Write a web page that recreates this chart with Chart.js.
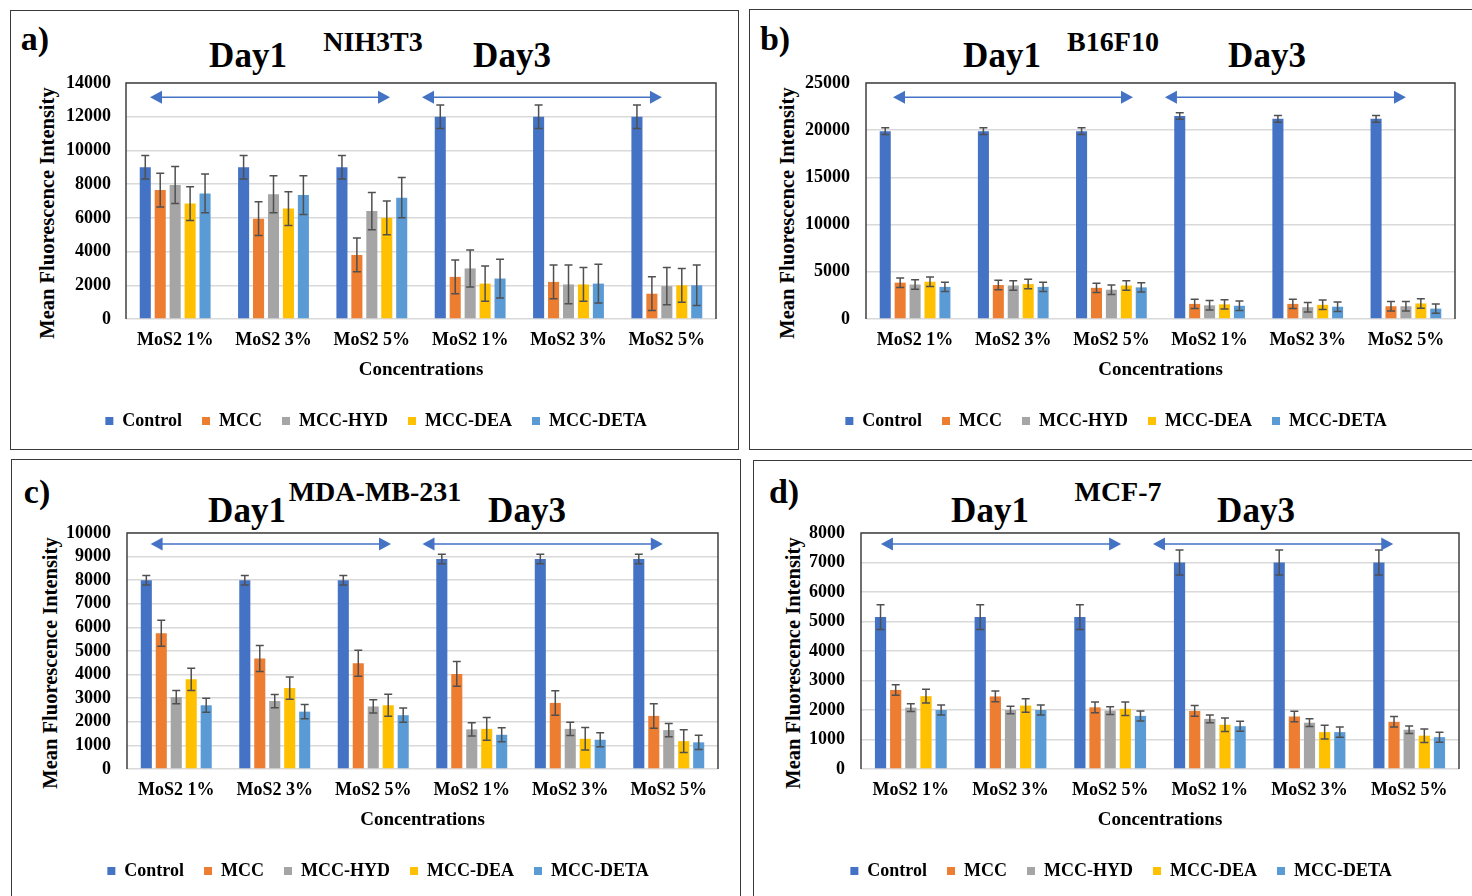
<!DOCTYPE html>
<html><head><meta charset="utf-8">
<script src="https://cdn.jsdelivr.net/npm/chart.js@4.4.1/dist/chart.umd.min.js"></script>
<style>
html,body{margin:0;padding:0;background:#fff;}
body{width:1472px;height:896px;position:relative;overflow:hidden;font-family:"Liberation Serif","Times New Roman",serif;}
.panel{position:absolute;border:1.5px solid #3a3a3a;box-sizing:border-box;}
.lbl{position:absolute;font-weight:bold;white-space:nowrap;transform:translate(-50%,-50%);line-height:1;color:#000;}
.ytl{position:absolute;font-weight:bold;white-space:nowrap;transform:translate(-50%,-50%) rotate(-90deg);line-height:1;color:#000;font-size:20.5px;}
canvas{position:absolute;}
</style></head>
<body>
<div class="panel" style="left:10px;top:10px;width:729px;height:440px"></div>
<div class="panel" style="left:749px;top:9px;width:740px;height:441px"></div>
<div class="panel" style="left:11px;top:459px;width:730px;height:450px"></div>
<div class="panel" style="left:753px;top:460px;width:740px;height:450px"></div>

<div class="lbl" style="left:35px;top:39px;font-size:34px">a)</div>
<div class="lbl" style="left:248px;top:55px;font-size:35px">Day1</div>
<div class="lbl" style="left:373px;top:42px;font-size:28px">NIH3T3</div>
<div class="lbl" style="left:512px;top:55px;font-size:35px">Day3</div>

<div class="lbl" style="left:775px;top:39px;font-size:34px">b)</div>
<div class="lbl" style="left:1002px;top:55px;font-size:35px">Day1</div>
<div class="lbl" style="left:1113px;top:42px;font-size:28px">B16F10</div>
<div class="lbl" style="left:1267px;top:55px;font-size:35px">Day3</div>

<div class="lbl" style="left:37px;top:492px;font-size:34px">c)</div>
<div class="lbl" style="left:247px;top:510px;font-size:35px">Day1</div>
<div class="lbl" style="left:375px;top:492px;font-size:28px">MDA-MB-231</div>
<div class="lbl" style="left:527px;top:510px;font-size:35px">Day3</div>

<div class="lbl" style="left:784px;top:492px;font-size:34px">d)</div>
<div class="lbl" style="left:990px;top:510px;font-size:35px">Day1</div>
<div class="lbl" style="left:1118px;top:492px;font-size:28px">MCF-7</div>
<div class="lbl" style="left:1256px;top:510px;font-size:35px">Day3</div>

<div class="ytl" style="left:47px;top:213px">Mean Fluorescence Intensity</div>
<div class="ytl" style="left:787px;top:213px">Mean Fluorescence Intensity</div>
<div class="ytl" style="left:50px;top:663px">Mean Fluorescence Intensity</div>
<div class="ytl" style="left:793px;top:663px">Mean Fluorescence Intensity</div>

<canvas id="ca" style="left:12px;top:75px" width="724" height="365"></canvas>
<canvas id="cb" style="left:751px;top:75px" width="719" height="365"></canvas>
<canvas id="cc" style="left:14px;top:525px" width="724" height="365"></canvas>
<canvas id="cd" style="left:756px;top:525px" width="714" height="365"></canvas>

<script>
// ---------- shared categories / series ----------
const categories = ['MoS2 1%','MoS2 3%','MoS2 5%','MoS2 1%','MoS2 3%','MoS2 5%'];
const seriesNames = ['Control','MCC','MCC-HYD','MCC-DEA','MCC-DETA'];
const seriesColors = ['#4472C4','#ED7D31','#A5A5A5','#FFC000','#5B9BD5'];

// ---------- a) NIH3T3 ----------
const nihControl = [9000, 9000, 9000, 12000, 12000, 12000];
const nihMCC     = [7650, 5950, 3800, 2500, 2200, 1500];
const nihHYD     = [7950, 7400, 6400, 3000, 2050, 1950];
const nihDEA     = [6850, 6550, 6000, 2100, 2050, 2000];
const nihDETA    = [7450, 7350, 7200, 2400, 2100, 2000];
const nihControlErr = [700, 700, 700, 700, 700, 700];
const nihMCCErr     = [1000, 1000, 1000, 1000, 1000, 1000];
const nihHYDErr     = [1100, 1100, 1100, 1100, 1150, 1100];
const nihDEAErr     = [1000, 1000, 1000, 1050, 1000, 1000];
const nihDETAErr    = [1150, 1150, 1200, 1150, 1150, 1200];
const nihTicks = {max:14000, step:2000};

// ---------- b) B16F10 ----------
const b16Control = [19900, 19900, 19900, 21500, 21200, 21200];
const b16MCC     = [3850, 3600, 3300, 1600, 1600, 1350];
const b16HYD     = [3650, 3550, 3100, 1450, 1250, 1350];
const b16DEA     = [3950, 3700, 3550, 1550, 1500, 1650];
const b16DETA    = [3400, 3400, 3350, 1400, 1300, 1100];
const b16ControlErr = [350, 350, 350, 350, 350, 350];
const b16MCCErr     = [500, 500, 500, 500, 500, 500];
const b16HYDErr     = [500, 500, 500, 500, 500, 500];
const b16DEAErr     = [500, 500, 500, 500, 500, 500];
const b16DETAErr    = [500, 500, 500, 500, 500, 500];
const b16Ticks = {max:25000, step:5000};

// ---------- c) MDA-MB-231 ----------
const mdaControl = [8000, 8000, 8000, 8900, 8900, 8900];
const mdaMCC     = [5750, 4680, 4480, 4030, 2800, 2250];
const mdaHYD     = [3050, 2880, 2650, 1680, 1700, 1650];
const mdaDEA     = [3800, 3430, 2700, 1700, 1280, 1180];
const mdaDETA    = [2700, 2430, 2280, 1450, 1240, 1130];
const mdaControlErr = [200, 200, 200, 200, 200, 200];
const mdaMCCErr     = [550, 550, 550, 520, 520, 520];
const mdaHYDErr     = [280, 280, 280, 280, 280, 280];
const mdaDEAErr     = [470, 470, 470, 480, 480, 480];
const mdaDETAErr    = [300, 300, 300, 300, 300, 300];
const mdaTicks = {max:10000, step:1000};

// ---------- d) MCF-7 ----------
const mcfControl = [5150, 5150, 5150, 7000, 7000, 7000];
const mcfMCC     = [2680, 2460, 2090, 1970, 1780, 1600];
const mcfHYD     = [2080, 2000, 1980, 1700, 1570, 1330];
const mcfDEA     = [2470, 2150, 2040, 1500, 1250, 1130];
const mcfDETA    = [2000, 2000, 1800, 1450, 1250, 1080];
const mcfControlErr = [420, 420, 420, 420, 420, 420];
const mcfMCCErr     = [180, 180, 180, 180, 180, 180];
const mcfHYDErr     = [130, 130, 130, 130, 130, 130];
const mcfDEAErr     = [230, 230, 230, 230, 230, 230];
const mcfDETAErr    = [170, 170, 170, 170, 170, 170];
const mcfTicks = {max:8000, step:1000};

const xTitle = 'Concentrations';

// ---------- plugins ----------
const errorBarPlugin = {
  id: 'errorBars',
  afterDatasetsDraw(chart) {
    const ctx = chart.ctx, ys = chart.scales.y;
    ctx.save();
    ctx.strokeStyle = '#505050';
    ctx.lineWidth = 1.5;
    chart.data.datasets.forEach((ds, di) => {
      const meta = chart.getDatasetMeta(di);
      meta.data.forEach((bar, i) => {
        const v = ds.data[i], e = ds.errors[i];
        const yt = ys.getPixelForValue(v + e), yb = ys.getPixelForValue(v - e);
        const x = bar.x, cap = 4;
        ctx.beginPath();
        ctx.moveTo(x, yt); ctx.lineTo(x, yb);
        ctx.moveTo(x - cap, yt); ctx.lineTo(x + cap, yt);
        ctx.moveTo(x - cap, yb); ctx.lineTo(x + cap, yb);
        ctx.stroke();
      });
    });
    ctx.restore();
  }
};

const framePlugin = {
  id: 'frameArrows',
  afterDraw(chart, args, opts) {
    const ctx = chart.ctx, a = chart.chartArea, xs = chart.scales.x;
    ctx.save();
    ctx.strokeStyle = '#404040';
    ctx.lineWidth = 1.5;
    ctx.beginPath();
    ctx.moveTo(a.left, a.bottom);
    ctx.lineTo(a.left, a.top);
    ctx.lineTo(a.right, a.top);
    ctx.lineTo(a.right, a.bottom);
    ctx.stroke();
    const y = a.top + opts.arrowY * (a.bottom - a.top);
    const px = (f) => {
      const i = Math.floor(f), t = f - i;
      const p0 = xs.getPixelForValue(i), p1 = xs.getPixelForValue(i + 1);
      return p0 + (p1 - p0) * t;
    };
    ctx.strokeStyle = '#4472C4';
    ctx.fillStyle = '#4472C4';
    ctx.lineWidth = 1.5;
    opts.arrows.forEach(([f0, f1]) => {
      const x0 = px(f0), x1 = px(f1), L = 12, H = 6.5;
      ctx.beginPath(); ctx.moveTo(x0 + L - 1, y); ctx.lineTo(x1 - L + 1, y); ctx.stroke();
      ctx.beginPath(); ctx.moveTo(x0, y); ctx.lineTo(x0 + L, y - H); ctx.lineTo(x0 + L, y + H); ctx.closePath(); ctx.fill();
      ctx.beginPath(); ctx.moveTo(x1, y); ctx.lineTo(x1 - L, y - H); ctx.lineTo(x1 - L, y + H); ctx.closePath(); ctx.fill();
    });
    ctx.restore();
  }
};

Chart.defaults.font.family = '"Liberation Serif", "Times New Roman", serif';
Chart.defaults.font.weight = 'bold';
Chart.defaults.color = '#000';

function makeChart(id, series, errs, ticks, geo) {
  const datasets = seriesNames.map((name, k) => ({
    label: name,
    data: series[k],
    errors: errs[k],
    backgroundColor: seriesColors[k],
    borderWidth: 0,
    categoryPercentage: 0.76,
    barPercentage: 0.74
  }));
  return new Chart(document.getElementById(id), {
    type: 'bar',
    data: { labels: categories, datasets },
    plugins: [errorBarPlugin, framePlugin],
    options: {
      responsive: false,
      animation: false,
      layout: { padding: { left: geo.left, top: 8, right: geo.right, bottom: 0 } },
      plugins: {
        tooltip: { enabled: false },
        legend: {
          position: 'bottom',
          labels: {
            boxWidth: 8, boxHeight: 8, padding: 20,
            font: { size: 18, weight: 'bold' }, color: '#000'
          }
        },
        frameArrows: { arrowY: geo.arrowY, arrows: geo.arrows }
      },
      scales: {
        x: {
          grid: { display: false, drawTicks: false },
          border: { display: false },
          ticks: { autoSkip: false, maxRotation: 0, minRotation: 0, padding: 11,
                   font: { size: 18, weight: 'bold' }, color: '#000' },
          title: { display: true, text: xTitle, font: { size: 19, weight: 'bold' },
                   color: '#000', padding: { top: 0, bottom: 10.5 } },
          afterFit(s) { s.height = 73; }
        },
        y: {
          min: 0, max: ticks.max,
          grid: { color: '#D9D9D9', lineWidth: 1.5, drawTicks: false },
          border: { display: false },
          ticks: { stepSize: ticks.step, autoSkip: false, padding: geo.tickPad,
                   font: { size: 18, weight: 'bold' }, color: '#000',
                   callback: (v) => String(v) },
          title: { display: false },
          afterFit(s) { s.width = geo.yWidth; s.paddingTop = 0; s.paddingBottom = 0; }
        }
      }
    }
  });
}

makeChart('ca',
  [nihControl, nihMCC, nihHYD, nihDEA, nihDETA],
  [nihControlErr, nihMCCErr, nihHYDErr, nihDEAErr, nihDETAErr],
  nihTicks,
  { left: 24, right: 20, yWidth: 90, tickPad: 15, arrowY: 0.06, arrows: [[-0.256, 2.185], [2.51, 4.95]] });

makeChart('cb',
  [b16Control, b16MCC, b16HYD, b16DEA, b16DETA],
  [b16ControlErr, b16MCCErr, b16HYDErr, b16DEAErr, b16DETAErr],
  b16Ticks,
  { left: 26, right: 15, yWidth: 89, tickPad: 16, arrowY: 0.06, arrows: [[-0.225, 2.22], [2.545, 5.0]] });

makeChart('cc',
  [mdaControl, mdaMCC, mdaHYD, mdaDEA, mdaDETA],
  [mdaControlErr, mdaMCCErr, mdaHYDErr, mdaDEAErr, mdaDETAErr],
  mdaTicks,
  { left: 24, right: 20, yWidth: 89, tickPad: 16, arrowY: 0.047, arrows: [[-0.26, 2.18], [2.5, 4.94]] });

makeChart('cd',
  [mcfControl, mcfMCC, mcfHYD, mcfDEA, mcfDETA],
  [mcfControlErr, mcfMCCErr, mcfHYDErr, mcfDEAErr, mcfDETAErr],
  mcfTicks,
  { left: 27, right: 11, yWidth: 78, tickPad: 16, arrowY: 0.047, arrows: [[-0.3, 2.11], [2.43, 4.84]] });
</script>
</body></html>
